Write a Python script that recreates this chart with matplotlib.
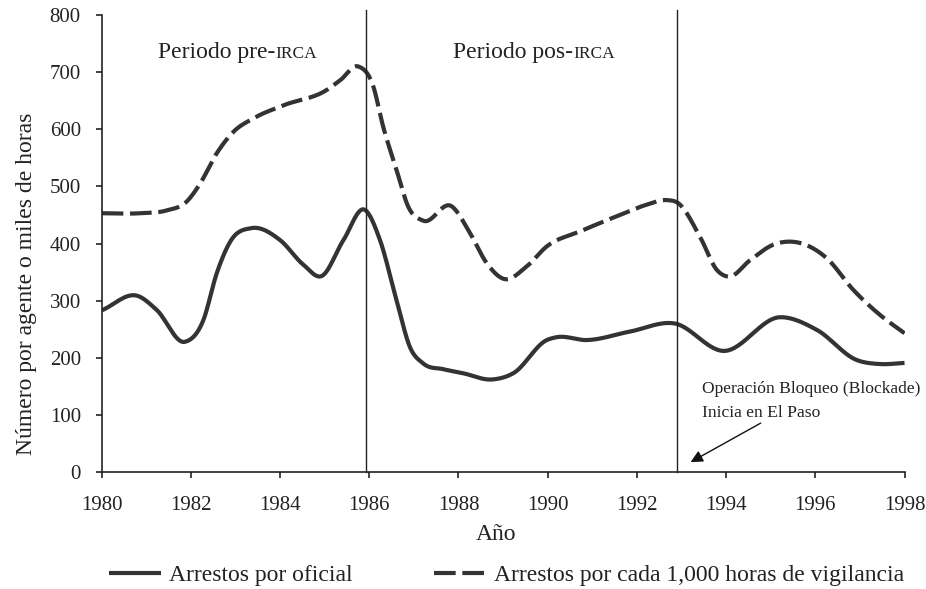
import numpy as np
import matplotlib
matplotlib.use("Agg")
import matplotlib.pyplot as plt
from matplotlib.lines import Line2D

# ---- data ----
years_oficial = [1980.0, 1980.82, 1981.23, 1981.87, 1982.28, 1982.58, 1982.88, 1983.36,
                 1984.0, 1984.52, 1984.93, 1985.42, 1985.9, 1986.24, 1986.61, 1986.91,
                 1987.21, 1987.66, 1988.1, 1988.75, 1989.23, 1989.98, 1990.2, 1990.87,
                 1991.85, 1992.85, 1993.94, 1995.21, 1996.03, 1996.93, 1997.45, 1998.0]
arrestos_oficial = [283, 308, 284, 228, 266, 348, 403, 427,
                    406, 363, 343, 406, 459, 406, 301, 219,
                    190, 180, 173, 162, 173, 231, 236, 231,
                    246, 260, 212, 271, 249, 196, 189, 191]

years_horas = [1980.0, 1980.86, 1981.46, 1981.9, 1982.2, 1982.58, 1982.96, 1983.4,
               1984.08, 1985.05, 1985.35, 1985.75, 1986.09, 1986.31, 1986.61, 1986.87,
               1987.21, 1987.85, 1988.26, 1988.63, 1989.02, 1989.53, 1989.98, 1990.72,
               1991.62, 1992.22, 1992.67, 1992.92, 1993.42, 1993.79, 1994.05, 1994.54,
               1995.06, 1995.51, 1996.26, 1996.85, 1997.45, 1998.0]
arrestos_horas = [453, 453, 458, 473, 504, 558, 596, 619,
                  642, 669, 686, 710, 675, 605, 529, 465,
                  440, 465, 418, 366, 338, 360, 395, 421,
                  450, 468, 476, 471, 411, 354, 342, 371,
                  398, 403, 374, 319, 275, 243]

year_ticks = [1980, 1982, 1984, 1986, 1988, 1990, 1992, 1994, 1996, 1998]
value_ticks = [0, 100, 200, 300, 400, 500, 600, 700, 800]
irca_year = 1985.93
bloqueo_year = 1992.9

label_oficial = "Arrestos por oficial"
label_horas = "Arrestos por cada 1,000 horas de vigilancia"


def smooth(xs, ys, n=30):
    """Cubic Hermite spline with three-point tangents (curve passes through points)."""
    x = np.asarray(xs, float)
    y = np.asarray(ys, float)
    h = np.diff(x)
    d = np.diff(y) / h
    m = np.empty_like(y)
    m[0] = d[0]
    m[-1] = d[-1]
    m[1:-1] = (h[:-1] * d[1:] + h[1:] * d[:-1]) / (h[:-1] + h[1:])
    X, Y = [], []
    for i in range(len(x) - 1):
        t = np.linspace(0, 1, n, endpoint=(i == len(x) - 2))
        h00 = 2 * t**3 - 3 * t**2 + 1
        h10 = t**3 - 2 * t**2 + t
        h01 = -2 * t**3 + 3 * t**2
        h11 = t**3 - t**2
        X.append(x[i] + t * h[i])
        Y.append(h00 * y[i] + h10 * h[i] * m[i] + h01 * y[i + 1] + h11 * h[i] * m[i + 1])
    return np.concatenate(X), np.concatenate(Y)


plt.rcParams['font.family'] = ['Liberation Serif', 'DejaVu Serif']
color = '#333333'
ink = '#222222'
dash = (5.2, 1.6)

fig = plt.figure(figsize=(9.26, 5.89), dpi=100)
ax = fig.add_axes([0.1098, 0.1986, 0.867, 0.7759])

xs, ys = smooth(years_oficial, arrestos_oficial)
ax.plot(xs, ys, color=color, lw=3.0, solid_capstyle='butt', label=label_oficial)
xh, yh = smooth(years_horas, arrestos_horas)
ax.plot(xh, yh, color=color, lw=3.0, dashes=dash, dash_capstyle='butt', label=label_horas)

ax.axvline(irca_year, color=ink, lw=1.0, ymax=1.01, clip_on=False)
ax.axvline(bloqueo_year, color=ink, lw=1.0, ymax=1.01, clip_on=False)

ax.set_xlim(1980, 1998)
ax.set_ylim(0, 800)
ax.set_xticks(year_ticks)
ax.set_yticks(value_ticks)
for s in ['top', 'right']:
    ax.spines[s].set_visible(False)
for s in ['left', 'bottom']:
    ax.spines[s].set_color(ink)
    ax.spines[s].set_linewidth(1.2)
ax.tick_params(axis='both', direction='out', length=4, width=1.2, colors=ink,
               labelsize=15, labelcolor=ink)
ax.tick_params(axis='x', pad=13.5)
ax.tick_params(axis='y', pad=11)

ax.set_xlabel("Año", fontsize=17, color=ink)
ax.xaxis.set_label_coords(0.491, -0.114)
ax.set_ylabel("Número por agente o miles de horas", fontsize=17, color=ink)
ax.yaxis.set_label_coords(-0.081, 0.411)

# period labels with small-caps style "IRCA"
t1 = ax.text(1981.27, 725, "Periodo pre-", fontsize=17, color=ink, ha='left', va='baseline')
ax.annotate("IRCA", xy=(1, 725), xycoords=(t1, 'data'), fontsize=12.5, color=ink,
            ha='left', va='baseline')
t2 = ax.text(1987.88, 725, "Periodo pos-", fontsize=17, color=ink, ha='left', va='baseline')
ax.annotate("IRCA", xy=(1, 725), xycoords=(t2, 'data'), fontsize=12.5, color=ink,
            ha='left', va='baseline')

ax.text(1993.45, 138, "Operación Bloqueo (Blockade)", fontsize=12.6, color=ink,
        ha='left', va='baseline')
ax.text(1993.45, 96, "Inicia en El Paso", fontsize=12.6, color=ink,
        ha='left', va='baseline')
ax.annotate("", xy=(1993.15, 15), xytext=(1994.83, 88),
            arrowprops=dict(arrowstyle='-|>', color='#111111', lw=1.0, mutation_scale=18))

handles = [Line2D([], [], color=color, lw=3.0, solid_capstyle='butt'),
           Line2D([], [], color=color, lw=3.0, dashes=dash, dash_capstyle='butt')]
fig.legend(handles, [label_oficial, label_horas], loc='center', ncol=2,
           bbox_to_anchor=(0.547, 1 - 575 / 589), frameon=False, fontsize=17,
           handlelength=2.2, handletextpad=0.35, columnspacing=3.45, labelcolor=ink,
           borderpad=0, borderaxespad=0)

fig.savefig("out.png", dpi=100)
